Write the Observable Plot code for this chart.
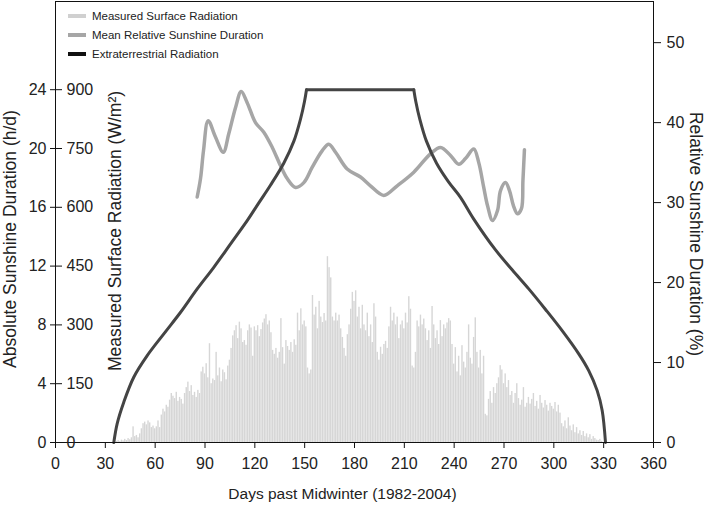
<!DOCTYPE html>
<html><head><meta charset="utf-8">
<script src="https://cdn.jsdelivr.net/npm/d3@7"></script>
<script src="https://cdn.jsdelivr.net/npm/@observablehq/plot@0.6"></script>
<style>
body{margin:0;background:#fff;}
#wrap{position:relative;width:712px;height:509px;font-family:"Liberation Sans",Arial,sans-serif;}
#legend{position:absolute;left:68px;top:6px;font-size:11.5px;color:#222;}
.row{display:flex;align-items:center;height:19px;}
.sw{width:18px;height:4px;margin-right:6px;}
</style></head><body><div id="wrap"><div id="chart"></div><div id="legend"></div></div>
<script>
// ---- data ----
const xTicks = [0,30,60,90,120,150,180,210,240,270,300,330,360];
const hourTicks = [0,4,8,12,16,20,24];
const radTickLabels = [0,150,300,450,600,750,900];
const pctTicks = [0,10,20,30,40,50];

// Measured surface radiation (W/m²), one value per day starting at day 37
const radStartDay = 37;
const radiation = [
 3,5,2,6,4,8,5,10,7,12,
 40,15,18,12,22,35,48,52,45,55,
 50,38,42,35,40,55,38,70,85,78,
 95,90,108,125,118,112,128,105,115,110,
 98,125,140,154,130,145,120,128,115,133,
 125,180,192,175,201,165,252,150,162,158,
 230,170,190,155,185,178,160,195,210,240,
 272,285,298,265,307,290,255,260,248,285,
 300,292,220,295,285,298,270,288,305,315,
 326,300,310,280,235,225,240,215,230,316,
 242,200,260,245,235,255,230,262,248,330,
 285,341,300,310,295,190,175,185,375,325,
 345,290,360,320,306,329,310,474,446,420,
 320,310,330,310,325,290,268,240,220,275,
 300,340,383,360,387,320,345,290,350,300,
 285,330,270,300,255,354,320,230,210,243,
 225,250,258,240,295,345,310,330,300,320,
 265,300,310,290,330,305,372,340,195,190,
 230,310,295,325,300,315,290,260,285,240,
 347,300,265,285,250,311,270,300,290,305,
 316,310,250,200,242,180,220,170,247,205,
 190,230,300,215,200,268,318,230,190,235,
 175,220,72,68,110,130,100,140,125,150,
 165,196,185,150,175,140,158,120,130,100,
 125,150,112,95,108,140,90,100,115,98,
 110,125,92,105,85,120,100,88,107,95,
 80,100,92,85,102,78,95,75,48,40,
 55,35,63,42,30,45,25,38,22,30,
 18,28,15,22,12,20,8,15,10,6,
 5,8,3
];

// Extraterrestrial radiation curve (h/d): rising limb, plateau, falling limb
const etrRiseDays  = [35.1,37.1,41.1,47.1,55.2,65.2,75.3,85.3,95.3,105.4,115.4,122.4,129.4,137.4,143.5,147.5,149.9,151.1];
const etrRiseHours = [0,1.27,2.74,4.44,5.91,7.39,8.86,10.45,11.92,13.51,15.09,16.3,17.5,19.0,20.5,22.0,23.2,24];
const etrFlatDays  = [151.1,215.7];
const etrFlatHours = [24,24];
const etrFallDays  = [215.7,216.9,219.3,223.3,229.4,236.5,243.8,251.8,264.9,274.9,284.9,295,305,315,321,326.1,329.1,331.1];
const etrFallHours = [24,23.2,22.0,20.5,19.0,17.75,16.68,15.2,13.1,11.75,10.45,9.05,7.61,6.03,4.89,3.53,2.18,0];

// Mean relative sunshine duration (%)
const relDays = [85.3,87.3,89.1,91.9,96.3,101.0,104.3,108.4,111.8,115.4,120.4,125.4,130.5,135.5,139.5,144.5,149.5,154.5,160.6,164.5,168.6,175.6,183.6,189.6,197.6,205.7,215.7,225.7,231.8,237.8,242.8,246.8,251.8,254.8,257.8,260.1,263.1,266.1,267.9,270.9,273.3,275.7,278.1,280.5,281.4,282.3];
const relPct  = [30.7,33.0,36.5,40.25,38.2,36.3,38.6,41.9,43.9,42.5,40.0,38.8,36.9,34.6,33.0,31.9,32.5,34.4,36.5,37.3,36.3,34.2,33.2,32.1,30.9,32.1,33.8,36.1,36.9,35.9,34.8,35.5,36.7,35.0,31.9,29.6,27.75,29.0,31.5,32.5,31.5,29.6,28.6,29.25,32.75,36.6];

const legendItems = ["Measured Surface Radiation","Mean Relative Sunshine Duration","Extraterrestrial Radiation"];
const legendColors = ["#d0d0d0","#a6a6a6","#111111"];

// ---- scale relations between axes ----
const H_PER_WM2 = 24/900;     // 900 W/m² aligns with 24 h/d
const H_PER_PCT = 0.544;      // right axis (%) relative to hours axis

const bars = radiation.map((w,i)=>({day: radStartDay+i, w}));
const etrData = [
  ...etrRiseDays.map((d,i)=>({day:d, h:etrRiseHours[i], seg:"rise"})),
  ...etrFlatDays.map((d,i)=>({day:d, h:etrFlatHours[i], seg:"flat"})),
  ...etrFallDays.map((d,i)=>({day:d, h:etrFallHours[i], seg:"fall"}))
];
const rel = relDays.map((d,i)=>({day:d, pct:relPct[i]}));

const font = "Liberation Sans, Arial, sans-serif";
const chart = Plot.plot({
  width: 712, height: 509,
  marginLeft: 55, marginRight: 59, marginTop: 1, marginBottom: 67,
  x: {domain: [0,360]},
  y: {domain: [0,30]},
  style: {fontFamily: font, fontSize: "16px", color: "#222", background: "white"},
  marks: [
    Plot.rectY(bars, {x1: d=>d.day-0.42, x2: d=>d.day+0.42, y1: 0, y2: d=>d.w*H_PER_WM2, fill: "#d6d6d6"}),
    Plot.line(rel, {x: "day", y: d=>d.pct*H_PER_PCT, stroke: "#a6a6a6", strokeWidth: 3.5, curve: "catmull-rom"}),
    Plot.line(etrData, {x: "day", y: "h", z: "seg", stroke: "#444", strokeWidth: 3, curve: "catmull-rom", strokeLinecap: "round"}),
    Plot.frame({stroke: "#111"}),
    Plot.axisX({ticks: xTicks, tickSize: 6, tickPadding: 9, label: null, stroke: "#111"}),
    Plot.axisY({anchor: "left", ticks: hourTicks, tickSize: 12, dx: 7, tickPadding: 4, label: null, stroke: "#111"}),
    Plot.axisY({anchor: "left", ticks: hourTicks, tickSize: 0, tickPadding: 0, dx: 11, textAnchor: "start", label: null,
                tickFormat: d => radTickLabels[hourTicks.indexOf(d)]}),
    Plot.axisY({anchor: "right", ticks: pctTicks.map(p=>p*H_PER_PCT), tickSize: 7, tickPadding: 6, label: null, stroke: "#111",
                tickFormat: d => Math.round(d/H_PER_PCT)}),
    Plot.text(["Days past Midwinter (1982-2004)"], {text: d=>d, frameAnchor: "bottom", textAnchor: "middle", dy: 56, dx: -12, fontSize: 15.5, fill: "#222"}),
    Plot.text(["Absolute Sunshine Duration (h/d)"], {text: d=>d, frameAnchor: "left", textAnchor: "middle", rotate: -90, dx: -45, dy: 17, fontSize: 17.5, fill: "#222", lineAnchor: "middle"}),
    Plot.text(["Measured Surface Radiation (W/m²)"], {text: d=>d, frameAnchor: "left", textAnchor: "middle", rotate: -90, dx: 60, dy: 9, fontSize: 17.5, fill: "#222", lineAnchor: "middle"}),
    Plot.text(["Relative Sunshine Duration (%)"], {text: d=>d, frameAnchor: "right", textAnchor: "middle", rotate: 90, dx: 42, dy: 12, fontSize: 17.5, fill: "#222", lineAnchor: "middle"})
  ]
});
document.getElementById("chart").appendChild(chart);

const lg = document.getElementById("legend");
legendItems.forEach((t,i)=>{
  const r = document.createElement("div"); r.className = "row";
  const s = document.createElement("div"); s.className = "sw"; s.style.background = legendColors[i];
  const l = document.createElement("span"); l.textContent = t;
  r.appendChild(s); r.appendChild(l); lg.appendChild(r);
});
</script></body></html>
